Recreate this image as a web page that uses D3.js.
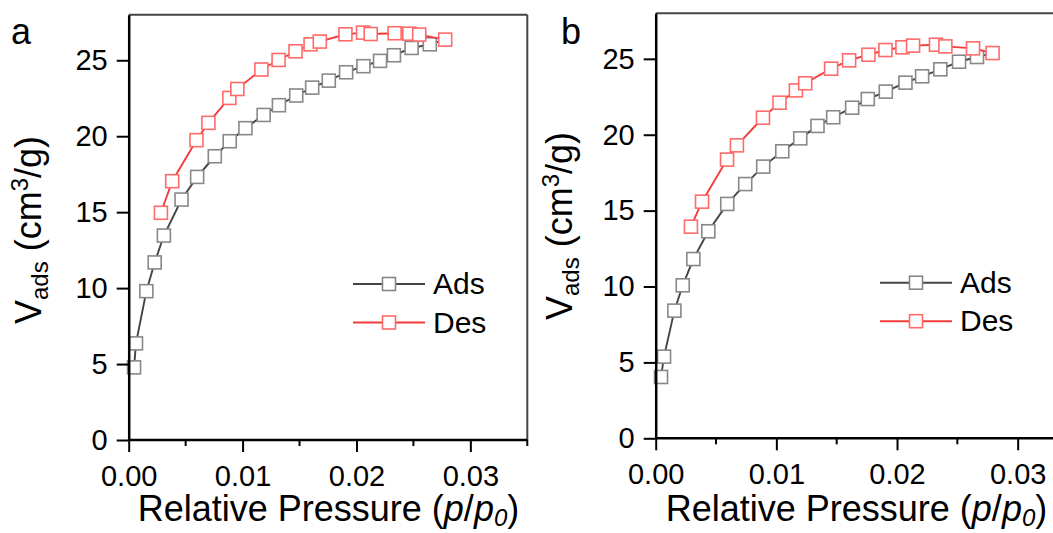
<!DOCTYPE html>
<html>
<head>
<meta charset="utf-8">
<script src="https://cdn.jsdelivr.net/npm/d3@7"></script>
<style>
  html, body { margin: 0; padding: 0; background: #fff; }
  svg { display: block; font-family: "Liberation Sans", Arial, sans-serif; }
</style>
</head>
<body>
<svg id="chart" width="1053" height="533"></svg>
<script>
// values: [p/p0, V_ads]
const adsA = [
  [0.00047, 4.78], [0.00064, 6.36], [0.00155, 9.80], [0.00228, 11.69], [0.00309, 13.46],
  [0.00464, 15.83], [0.00601, 17.32], [0.00756, 18.68], [0.00887, 19.67], [0.01025, 20.53],
  [0.01185, 21.40], [0.01319, 22.04], [0.01471, 22.68], [0.01611, 23.20], [0.01757, 23.66],
  [0.01909, 24.21], [0.02061, 24.61], [0.02207, 24.96], [0.02329, 25.33], [0.02484, 25.81],
  [0.02644, 26.05]
];
const desA = [
  [0.00283, 14.96], [0.00382, 17.04], [0.00595, 19.74], [0.00700, 20.88], [0.00884, 22.52],
  [0.00954, 23.11], [0.01165, 24.39], [0.01316, 25.02], [0.01465, 25.59], [0.01597, 26.05],
  [0.01678, 26.23], [0.01903, 26.71], [0.02058, 26.82], [0.02125, 26.73], [0.02335, 26.78],
  [0.02464, 26.75], [0.02551, 26.69], [0.02779, 26.36]
];
const adsB = [
  [0.00044, 4.04], [0.00069, 5.38], [0.00155, 8.41], [0.00224, 10.08], [0.00312, 11.81],
  [0.00436, 13.64], [0.00593, 15.44], [0.00742, 16.75], [0.00891, 17.90], [0.01049, 18.91],
  [0.01198, 19.76], [0.01341, 20.58], [0.01471, 21.15], [0.01628, 21.78], [0.01758, 22.35],
  [0.01907, 22.84], [0.02070, 23.43], [0.02208, 23.85], [0.02359, 24.31], [0.02514, 24.81],
  [0.02663, 25.12]
];
const desB = [
  [0.00292, 13.94], [0.00384, 15.59], [0.00591, 18.36], [0.00673, 19.30], [0.00889, 21.12],
  [0.01026, 22.11], [0.01162, 22.92], [0.01239, 23.39], [0.01454, 24.35], [0.01603, 24.90],
  [0.01763, 25.27], [0.01904, 25.58], [0.02045, 25.76], [0.02133, 25.87], [0.02323, 25.93],
  [0.02401, 25.82], [0.02630, 25.69], [0.02792, 25.38]
];

const xMajor = [0, 0.01, 0.02, 0.03];
const xMinor = [0.005, 0.015, 0.025, 0.035];
const yTicks = [0, 5, 10, 15, 20, 25];
const seriesNames = ['Ads', 'Des'];
const panelLabels = ['a', 'b'];

const colAdsLine = '#444', colAdsMark = '#888';
const colDesLine = '#f23c3c', colDesMark = '#ff6a6a';
const ms = 13; // marker size

const svg = d3.select('#chart');

function drawPanel(p) {
  const x = d3.scaleLinear().domain([0, 0.035]).range([p.left, p.right]);
  const y = d3.scaleLinear().domain([0, 28]).range([p.bottom, p.top]);
  const g = svg.append('g');

  // frame top / right
  g.append('line')
    .attr('x1', p.left).attr('x2', p.right)
    .attr('y1', p.top).attr('y2', p.top)
    .attr('stroke', '#444').attr('stroke-width', 2);
  g.append('line')
    .attr('x1', p.right).attr('x2', p.right)
    .attr('y1', p.top).attr('y2', p.bottom)
    .attr('stroke', '#444').attr('stroke-width', 2);

  const line = d3.line().x(d => x(d[0])).y(d => y(d[1]));

  // adsorption branch runs into the first desorption point
  const adsPath = p.ads.concat([p.des[p.des.length - 1]]);
  g.append('path').datum(adsPath)
    .attr('d', line).attr('fill', 'none')
    .attr('stroke', colAdsLine).attr('stroke-width', 1.9);
  g.selectAll('.mads').data(p.ads).enter().append('rect')
    .attr('x', d => x(d[0]) - ms / 2).attr('y', d => y(d[1]) - ms / 2)
    .attr('width', ms).attr('height', ms)
    .attr('fill', '#fff').attr('stroke', colAdsMark).attr('stroke-width', 1.6);

  g.append('path').datum(p.des)
    .attr('d', line).attr('fill', 'none')
    .attr('stroke', colDesLine).attr('stroke-width', 1.9);
  g.selectAll('.mdes').data(p.des).enter().append('rect')
    .attr('x', d => x(d[0]) - ms / 2).attr('y', d => y(d[1]) - ms / 2)
    .attr('width', ms).attr('height', ms)
    .attr('fill', '#fff').attr('stroke', colDesMark).attr('stroke-width', 1.6);

  // axes
  const ax = g.append('g').attr('transform', `translate(0,${p.bottom})`)
    .call(d3.axisBottom(x).tickValues(xMajor).tickFormat(d3.format('.2f'))
      .tickSizeInner(12).tickSizeOuter(0).tickPadding(13));
  ax.append('g').selectAll('line').data(xMinor).enter().append('line')
    .attr('x1', d => x(d)).attr('x2', d => x(d))
    .attr('y1', 0).attr('y2', 6)
    .attr('stroke', '#000').attr('stroke-width', 2);

  const ay = g.append('g').attr('transform', `translate(${p.left},0)`)
    .call(d3.axisLeft(y).tickValues(yTicks).tickFormat(d3.format('d'))
      .tickSizeInner(12).tickSizeOuter(0).tickPadding(9));

  [ax, ay].forEach(a => {
    a.select('.domain').attr('stroke', '#000').attr('stroke-width', 2.5);
    a.selectAll('.tick line').attr('stroke', '#000').attr('stroke-width', 2);
    a.selectAll('.tick text').attr('fill', '#000')
      .style('font-size', '29px').style('font-family', '"Liberation Sans", Arial, sans-serif');
  });
  ax.select('.domain').attr('d', `M${p.left},0H${p.right}`);

  // axis titles
  const xt = g.append('text')
    .attr('x', p.xTitleX).attr('y', 521)
    .attr('text-anchor', 'middle')
    .style('font-size', '36px').attr('fill', '#000');
  xt.append('tspan').text('Relative Pressure (');
  xt.append('tspan').attr('font-style', 'italic').text('p');
  xt.append('tspan').text('/');
  xt.append('tspan').attr('font-style', 'italic').text('p');
  xt.append('tspan').attr('font-style', 'italic').attr('font-size', '24px').attr('dy', 5).text('0');
  xt.append('tspan').attr('dy', -5).text(')');

  const yt = g.append('text')
    .attr('transform', `translate(${p.yTitleX},${p.yTitleY}) rotate(-90)`)
    .attr('text-anchor', 'middle')
    .style('font-size', '36px').attr('fill', '#000');
  yt.append('tspan').text('V');
  yt.append('tspan').attr('font-size', '24px').attr('dy', 7).text('ads');
  yt.append('tspan').attr('dy', -7).text(' (cm');
  yt.append('tspan').attr('font-size', '24px').attr('dy', -13).text('3');
  yt.append('tspan').attr('dy', 13).text('/g)');

  // panel letter
  g.append('text').attr('x', p.labelX).attr('y', 44)
    .style('font-size', '36px').attr('fill', '#000').text(p.label);

  // legend
  const leg = g.append('g');
  seriesNames.forEach((name, i) => {
    const ly = p.legY + i * 38.5;
    const lc = i === 0 ? colAdsLine : colDesLine;
    const mc = i === 0 ? colAdsMark : colDesMark;
    leg.append('line')
      .attr('x1', p.legX).attr('x2', p.legX + 72)
      .attr('y1', ly).attr('y2', ly)
      .attr('stroke', lc).attr('stroke-width', 1.9);
    leg.append('rect')
      .attr('x', p.legX + 36 - ms / 2).attr('y', ly - ms / 2)
      .attr('width', ms).attr('height', ms)
      .attr('fill', '#fff').attr('stroke', mc).attr('stroke-width', 1.6);
    leg.append('text')
      .attr('x', p.legX + 80).attr('y', ly + 10)
      .style('font-size', '30px').attr('fill', '#000').text(name);
  });
}

drawPanel({
  label: panelLabels[0], ads: adsA, des: desA,
  left: 128.7, right: 527.3, top: 14.7, bottom: 440,
  xTitleX: 328.5, yTitleX: 41, yTitleY: 230, labelX: 11,
  legX: 353, legY: 284
});
drawPanel({
  label: panelLabels[1], ads: adsB, des: desB,
  left: 655.7, right: 1078, top: 13.3, bottom: 438.3,
  xTitleX: 856.5, yTitleX: 572, yTitleY: 226, labelX: 561,
  legX: 880, legY: 282.7
});
</script>
</body>
</html>
